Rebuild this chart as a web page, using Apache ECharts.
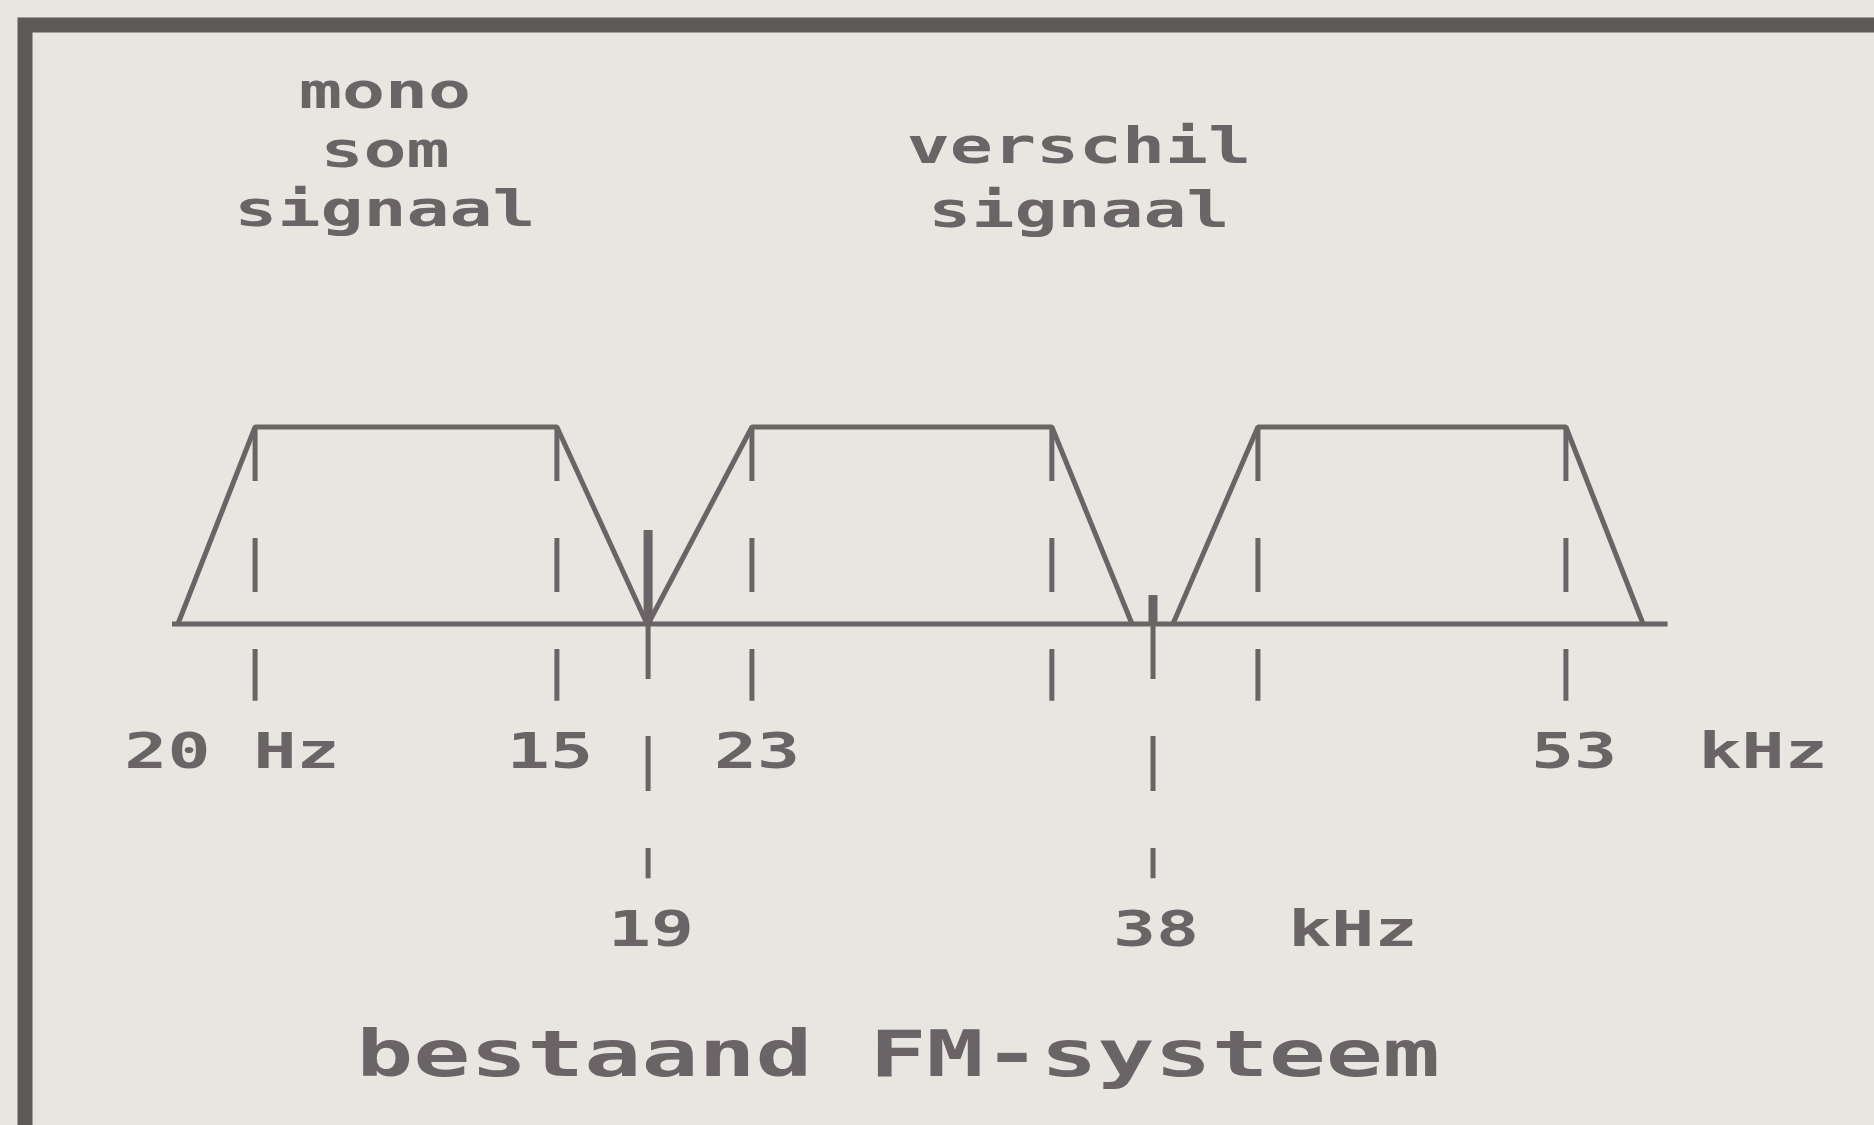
<!DOCTYPE html>
<html>
<head>
<meta charset="utf-8">
<script src="https://cdn.jsdelivr.net/npm/echarts@6/dist/echarts.min.js"></script>
<style>
  html, body { margin: 0; padding: 0; background: #e7e6e1; }
  #chart { width: 1874px; height: 1125px; }
</style>
</head>
<body>
<div id="chart"></div>
<script>
// x in (schematic) kHz, y = relative level (0 = axis, 1 = band top)
const axisLine = [[1.3, 0], [56.9, 0]]
const monoBand = [[1.52, 0], [4.39, 1], [15.61, 1], [18.96, 0]]
const lowerSideband = [[19.0, 0], [22.86, 1], [34.01, 1], [36.99, 0]]
const upperSideband = [[38.51, 0], [41.67, 1], [53.12, 1], [55.99, 0]]

// dashed band-edge markers
const edgeMarkers = [4.39, 15.61, 22.86, 34.01, 41.67, 53.12]
// pilot (19 kHz) and suppressed carrier (38 kHz)
const pilotX = [19.0, 37.77]
const pilotLevel = [0.477, 0.147]

const tickLabels = ['20 Hz', '15', '23', '53', 'kHz']
const tickLabelX = [3.53, 15.35, 23.05, 53.42, 60.45]
const pilotLabels = ['19', '38', 'kHz']
const pilotLabelX = [19.11, 37.88, 45.2]

const ink = '#6b6466'
const mono = 'DejaVu Sans Mono'

const lineSeries = (data) => ({
  type: 'line',
  data: data,
  symbol: 'none',
  clip: false,
  silent: true,
  lineStyle: { color: ink, width: 5 }
})

const labelSeries = (labels, xs, row) => ({
  type: 'custom',
  data: xs.map((x, i) => [x, row, i]),
  renderItem: (params, api) => {
    const p = api.coord([api.value(0), api.value(1)])
    return {
      type: 'text',
      x: p[0],
      y: p[1],
      scaleX: 1.43,
      style: {
        text: labels[api.value(2)],
        fill: ink,
        fontFamily: mono,
        fontWeight: 'bold',
        fontSize: 50,
        align: 'center',
        verticalAlign: 'middle'
      }
    }
  }
})

const options = {
  animation: false,
  backgroundColor: '#e7e6e1',
  grid: { left: 137, right: 123, top: 427, bottom: 501 },
  xAxis: { type: 'value', min: 0, max: 60, show: false },
  yAxis: { type: 'value', min: 0, max: 1, show: false },
  graphic: [
    {
      type: 'polyline',
      shape: { points: [[25, 1140], [25, 25], [1890, 25]] },
      style: { stroke: '#5e5959', lineWidth: 15, fill: null, lineJoin: 'miter' }
    },
    {
      type: 'text', x: 385, y: 66, scaleX: 1.43,
      style: {
        text: 'mono\nsom\nsignaal', fill: ink, fontFamily: mono, fontWeight: 'bold',
        fontSize: 50, lineHeight: 59, align: 'center', verticalAlign: 'top'
      }
    },
    {
      type: 'text', x: 1079, y: 118, scaleX: 1.43,
      style: {
        text: 'verschil\nsignaal', fill: ink, fontFamily: mono, fontWeight: 'bold',
        fontSize: 50, lineHeight: 64, align: 'center', verticalAlign: 'top'
      }
    },
    {
      type: 'text', x: 898, y: 1059, scaleX: 1.48,
      style: {
        text: 'bestaand FM-systeem', fill: ink, fontFamily: mono, fontWeight: 'bold',
        fontSize: 64, align: 'center', verticalAlign: 'middle'
      }
    }
  ],
  series: [
    lineSeries(axisLine),
    lineSeries(monoBand),
    lineSeries(lowerSideband),
    lineSeries(upperSideband),
    {
      type: 'custom',
      data: edgeMarkers.map((x) => [x, 1]),
      renderItem: (params, api) => {
        const top = api.coord([api.value(0), 1])
        const bot = api.coord([api.value(0), -0.39])
        return {
          type: 'line',
          shape: { x1: top[0], y1: top[1], x2: bot[0], y2: bot[1] },
          style: { stroke: ink, lineWidth: 5, lineDash: [54, 57] }
        }
      }
    },
    {
      type: 'custom',
      data: pilotX.map((x, i) => [x, pilotLevel[i]]),
      renderItem: (params, api) => {
        const top = api.coord([api.value(0), api.value(1)])
        const base = api.coord([api.value(0), 0])
        const bot = api.coord([api.value(0), -1.29])
        return {
          type: 'group',
          children: [
            {
              type: 'line',
              shape: { x1: top[0], y1: top[1], x2: base[0], y2: base[1] },
              style: { stroke: ink, lineWidth: 9 }
            },
            {
              type: 'line',
              shape: { x1: base[0], y1: base[1], x2: bot[0], y2: bot[1] },
              style: { stroke: ink, lineWidth: 5, lineDash: [55, 57] }
            }
          ]
        }
      }
    },
    labelSeries(tickLabels, tickLabelX, -0.665),
    labelSeries(pilotLabels, pilotLabelX, -1.569)
  ]
}

const myChart = echarts.init(document.getElementById('chart'))
myChart.setOption(options)
</script>
</body>
</html>
